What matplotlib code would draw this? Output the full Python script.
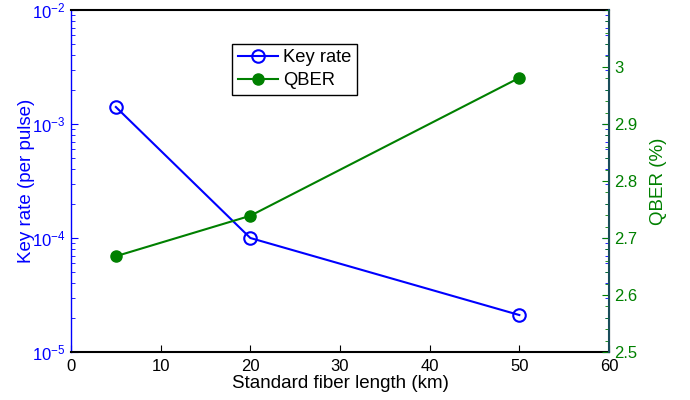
import matplotlib
matplotlib.use("Agg")
import matplotlib.pyplot as plt
from matplotlib.ticker import LogLocator, MultipleLocator, FixedLocator
import numpy as np

plt.rcParams['font.family'] = ['Liberation Sans', 'DejaVu Sans']
plt.rcParams['mathtext.fontset'] = 'custom'
plt.rcParams['mathtext.rm'] = 'Liberation Sans'
plt.rcParams['mathtext.it'] = 'Liberation Sans'

fiber_length = [5, 20, 50]
key_rate = [1.41e-3, 1.0e-4, 2.11e-5]
qber = [2.668, 2.739, 2.981]

blue = '#0000ff'
green = '#008000'

fig = plt.figure(figsize=(6.9, 4.0), dpi=100)
ax1 = fig.add_axes([71/690, 48/400, 538/690, 342/400])
ax2 = ax1.twinx()

l1, = ax1.plot(fiber_length, key_rate, '-o', color=blue, lw=1.5, ms=9,
               mfc='none', mec=blue, mew=1.5, label='Key rate')
l2, = ax2.plot(fiber_length, qber, '-o', color=green, lw=1.5, ms=8,
               mfc=green, mec=green, label='QBER')

ax1.set_yscale('log')
ax1.set_ylim(1e-5, 1e-2)
ax1.set_xlim(0, 60)
ax1.xaxis.set_major_locator(MultipleLocator(10))
ax1.yaxis.set_major_locator(LogLocator(base=10, numticks=10))
ax1.yaxis.set_minor_locator(LogLocator(base=10, subs=np.arange(2, 10), numticks=10))
ax1.tick_params(axis='y', which='both', colors=blue, direction='in', right=True,
                labelright=False, labelsize=12, pad=4)
ax1.tick_params(axis='y', which='major', length=5)
ax1.tick_params(axis='y', which='minor', length=3)
ax1.tick_params(axis='x', which='both', direction='in', top=False, labelsize=12, length=5, pad=5)
ax1.spines['left'].set_color(blue)
ax1.set_xlabel('Standard fiber length (km)', fontsize=13.5, labelpad=1)
ax1.set_ylabel('Key rate (per pulse)', color=blue, fontsize=13.5, labelpad=-2)

ax2.set_ylim(2.5, 3.1)
ax2.yaxis.set_major_locator(FixedLocator([2.5, 2.6, 2.7, 2.8, 2.9, 3.0]))
ax2.yaxis.set_major_formatter(matplotlib.ticker.FuncFormatter(lambda v, p: f'{v:g}'))
ax2.yaxis.set_minor_locator(MultipleLocator(0.02))
ax2.tick_params(axis='y', which='both', colors=green, direction='in', labelsize=12, pad=4)
ax2.tick_params(axis='y', which='major', length=5)
ax2.tick_params(axis='y', which='minor', length=3)
ax2.spines['right'].set_color('#1a4d5a')
ax2.spines['left'].set_visible(False)
ax2.set_ylabel('QBER (%)', color=green, fontsize=13.5, labelpad=9)

for sp in ['top', 'bottom']:
    ax1.spines[sp].set_linewidth(1.5)
ax1.spines['left'].set_linewidth(1.0)
ax2.spines['right'].set_linewidth(1.5)
ax2.spines['top'].set_visible(False)
ax2.spines['bottom'].set_visible(False)

leg = ax1.legend(handles=[l1, l2], loc='upper left', bbox_to_anchor=(232/690, 1 - 44/400),
                 bbox_transform=fig.transFigure, fontsize=13.2, fancybox=False,
                 edgecolor='black', framealpha=1, handlelength=2.2, borderpad=0.3,
                 labelspacing=0.3, handletextpad=0.3, borderaxespad=0)
leg.get_frame().set_linewidth(1.0)

fig.savefig('out.png', dpi=100)
